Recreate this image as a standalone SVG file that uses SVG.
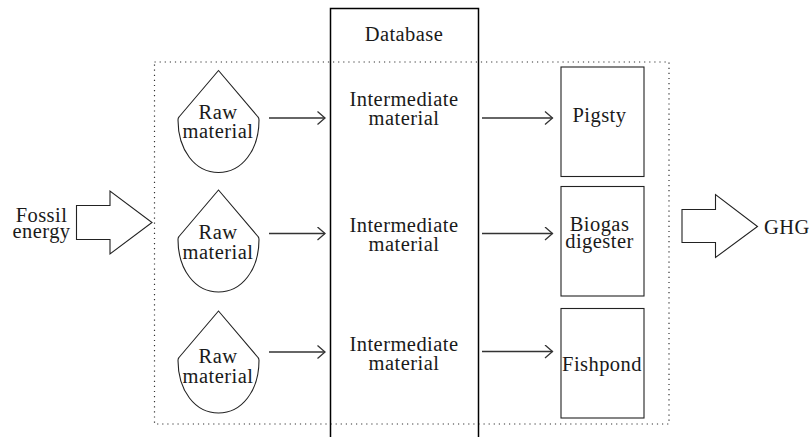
<svg xmlns="http://www.w3.org/2000/svg" width="810" height="437" viewBox="0 0 810 437">
<style>
text{font-family:"Liberation Serif","Times New Roman",serif;font-size:20.5px;letter-spacing:.45px;fill:#1a1a1a;text-anchor:middle}
.s{fill:#fff;stroke:#222;stroke-width:1.1}
.a{fill:none;stroke:#333;stroke-width:1.3}
</style>
<defs>
<path id="drop" d="M218.500 70.500L179 117C178 118 178 119 178 120C178 150 195 172.500 218.500 172.500C242 172.500 259 150 259 120C259 119 259 118 258 117Z"/>
<marker id="h" markerWidth="12" markerHeight="14" refX="9.500" refY="7" orient="auto" markerUnits="userSpaceOnUse"><path d="M2 0.500L9.500 7L2 13.500" fill="none" stroke="#333" stroke-width="1.300"/></marker>
</defs>
<g id="boundary"><rect x="154.500" y="62" width="514.500" height="362" fill="none" stroke="#333" stroke-width="1.200" stroke-dasharray="1.200 3.900"/></g>
<g id="database"><path d="M330.500 437V8.500H478.500V437" fill="none" stroke="#000" stroke-width="1.500"/><text x="404" y="41">Database</text></g>
<g id="raw1"><use href="#drop" class="s"/><text x="218" y="119">Raw</text><text x="218" y="138">material</text></g>
<g id="raw2"><use href="#drop" y="119.500" class="s"/><text x="218" y="239">Raw</text><text x="218" y="258.500">material</text></g>
<g id="raw3"><use href="#drop" y="240.500" class="s"/><text x="218" y="363">Raw</text><text x="218" y="382.500">material</text></g>
<g id="inter1"><text x="404" y="106">Intermediate</text><text x="404" y="125">material</text></g>
<g id="inter2"><text x="404" y="232">Intermediate</text><text x="404" y="251">material</text></g>
<g id="inter3"><text x="404" y="351">Intermediate</text><text x="404" y="370">material</text></g>
<g id="pigsty"><rect x="561" y="67" width="83" height="109.500" class="s"/><text x="599.500" y="122">Pigsty</text></g>
<g id="biogas"><rect x="561" y="186.500" width="83" height="109.500" class="s"/><text x="599.500" y="231">Biogas</text><text x="599.500" y="248">digester</text></g>
<g id="fishpond"><rect x="561" y="308.500" width="83" height="109.500" class="s"/><text x="602" y="371">Fishpond</text></g>
<g id="fossil"><path d="M76.500 205.500H110V191L152 222.500L110 254V239.500H76.500Z" class="s"/><text x="41.500" y="222">Fossil</text><text x="41.500" y="238">energy</text></g>
<g id="ghg"><path d="M682 209.500H715.500V194.500L757.500 226.500L715.500 257.500V242.500H682Z" class="s"/><text x="787" y="233.500">GHG</text></g>
<g id="connectors" class="a">
<path d="M269 118H325" marker-end="url(#h)"/>
<path d="M269 233.500H325" marker-end="url(#h)"/>
<path d="M269 352H325" marker-end="url(#h)"/>
<path d="M482 118H552.500" marker-end="url(#h)"/>
<path d="M482 233.500H552.500" marker-end="url(#h)"/>
<path d="M482 351.500H552.500" marker-end="url(#h)"/>
</g>
</svg>
